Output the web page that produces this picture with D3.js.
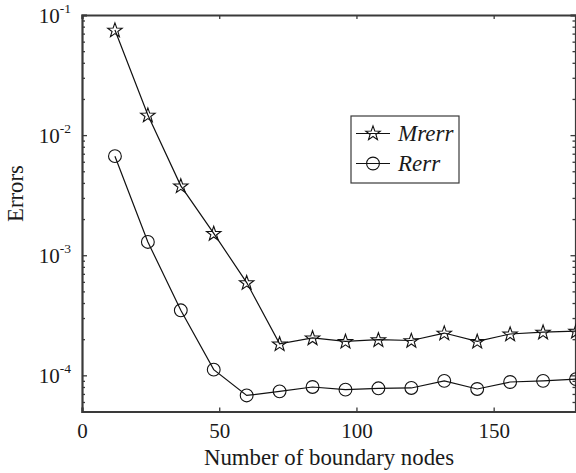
<!DOCTYPE html>
<html>
<head>
<meta charset="utf-8">
<script src="https://cdn.jsdelivr.net/npm/d3@7"></script>
<style>
  body { margin: 0; background: #fff; }
  svg text { font-family: "Liberation Serif", "Times New Roman", serif !important; }
</style>
</head>
<body>
<div id="graph"></div>
<script>
// boundary node counts and the two error series
const nodes = [12, 24, 36, 48, 60, 72, 84, 96, 108, 120, 132, 144, 156, 168, 180];
const mrerr = [0.075, 0.0147, 0.00378, 0.00152, 0.000592, 0.000183, 0.000205, 0.000192, 0.000198, 0.000195, 0.000225, 0.000192, 0.000221, 0.000229, 0.000233];
const rerr = [0.00668, 0.00129, 0.000348, 0.0001115, 0.000068, 0.0000736, 0.00008, 0.000076, 0.000078, 0.0000785, 0.00009, 0.000077, 0.000088, 0.00009, 0.000093];

const xTicks = [0, 50, 100, 150];
const yDecades = [-4, -3, -2, -1];
const seriesNames = ["Mrerr", "Rerr"];

const svgWidth = 576;
const svgHeight = 473;
const margin = { top: 15, right: 0, bottom: 61.5, left: 82 };

const svg = d3.select("#graph")
  .append("svg")
  .attr("width", svgWidth)
  .attr("height", svgHeight);

const xScale = d3.scaleLinear()
  .domain([0, 180])
  .range([margin.left, svgWidth - margin.right]);

const yScale = d3.scaleLog()
  .domain([5e-5, 0.1])
  .range([svgHeight - margin.bottom, margin.top]);

const x0 = xScale.range()[0], x1 = xScale.range()[1];
const y0 = yScale.range()[0], y1 = yScale.range()[1];

// minor log ticks
const minor = [];
yDecades.concat([-5]).forEach(k => {
  for (let m = 2; m <= 9; m++) {
    const v = m * Math.pow(10, k);
    if (v >= 5e-5 && v < 0.1) minor.push(v);
  }
});

const axisColor = "#3a3a3a";
const textColor = "#1a1a1a";

// left axis (ticks inward)
const gl = svg.append("g")
  .attr("transform", `translate(${x0},0)`)
  .call(d3.axisLeft(yScale).tickValues(yDecades.map(k => Math.pow(10, k))).tickSize(-5).tickFormat(""));
gl.append("g").call(d3.axisLeft(yScale).tickValues(minor).tickSize(-3).tickFormat(""))
  .select(".domain").remove();

// right axis
const gr = svg.append("g")
  .attr("transform", `translate(${x1 - 0.5},0)`)
  .call(d3.axisRight(yScale).tickValues(yDecades.map(k => Math.pow(10, k))).tickSize(-5).tickFormat(""));
gr.append("g").call(d3.axisRight(yScale).tickValues(minor).tickSize(-3).tickFormat(""))
  .select(".domain").remove();

// bottom axis
svg.append("g")
  .attr("transform", `translate(0,${y0})`)
  .call(d3.axisBottom(xScale).tickValues(xTicks).tickSize(-4).tickPadding(12))
  .selectAll("text")
  .attr("font-size", 21)
  .attr("fill", textColor);

// top axis
svg.append("g")
  .attr("transform", `translate(0,${y1})`)
  .call(d3.axisTop(xScale).tickValues(xTicks).tickSize(-4).tickFormat(""));

svg.selectAll(".domain, .tick line")
  .attr("stroke", axisColor);
svg.selectAll(".domain").attr("stroke-width", 2.2);
svg.selectAll(".tick line").attr("stroke-width", 1.3);

// y labels with superscripts
yDecades.forEach(k => {
  const t = svg.append("text")
    .attr("x", 71)
    .attr("y", yScale(Math.pow(10, k)) + 7.5)
    .attr("text-anchor", "end")
    .attr("fill", textColor)
    .attr("font-size", 21);
  t.append("tspan").text("10");
  t.append("tspan").attr("font-size", 13.5).attr("dy", -9.5).text("-" + Math.abs(k));
});

// axis titles
svg.append("text")
  .attr("x", (x0 + x1) / 2)
  .attr("y", 464.5)
  .attr("text-anchor", "middle")
  .attr("font-size", 22.8)
  .attr("fill", textColor)
  .text("Number of boundary nodes");

svg.append("text")
  .attr("transform", "translate(23,193.5) rotate(-90)")
  .attr("text-anchor", "middle")
  .attr("font-size", 22.8)
  .attr("fill", textColor)
  .text("Errors");

// star marker path
function starPath(r) {
  const pts = [];
  for (let i = 0; i < 10; i++) {
    const rad = i % 2 === 0 ? r : r * 0.4;
    const a = -Math.PI / 2 + i * Math.PI / 5;
    pts.push([rad * Math.cos(a), rad * Math.sin(a)]);
  }
  return "M" + pts.map(p => p[0].toFixed(2) + "," + p[1].toFixed(2)).join("L") + "Z";
}

const line = d3.line()
  .x(d => xScale(d[0]))
  .y(d => yScale(d[1]));

const mData = nodes.map((n, i) => [n, mrerr[i]]);
const rData = nodes.map((n, i) => [n, rerr[i]]);

svg.append("path").datum(mData)
  .attr("fill", "none").attr("stroke", "#111").attr("stroke-width", 1.2)
  .attr("d", line);
svg.append("path").datum(rData)
  .attr("fill", "none").attr("stroke", "#111").attr("stroke-width", 1.2)
  .attr("d", line);

svg.selectAll(".star")
  .data(mData)
  .enter()
  .append("path")
  .attr("class", "star")
  .attr("transform", d => `translate(${xScale(d[0])},${yScale(d[1]) + 0.5})`)
  .attr("d", starPath(7.6))
  .attr("fill", "none")
  .attr("stroke", "#111")
  .attr("stroke-width", 1.1);

svg.selectAll(".circ")
  .data(rData)
  .enter()
  .append("circle")
  .attr("class", "circ")
  .attr("cx", d => xScale(d[0]))
  .attr("cy", d => yScale(d[1]))
  .attr("r", 6.4)
  .attr("fill", "none")
  .attr("stroke", "#111")
  .attr("stroke-width", 1.1);

// legend
const legend = svg.append("g");
legend.append("rect")
  .attr("x", 351).attr("y", 116)
  .attr("width", 108).attr("height", 67)
  .attr("fill", "#fff")
  .attr("stroke", axisColor)
  .attr("stroke-width", 1.2);

seriesNames.forEach((name, i) => {
  const ly = 133.5 + i * 30;
  legend.append("line")
    .attr("x1", 356).attr("x2", 390)
    .attr("y1", ly).attr("y2", ly)
    .attr("stroke", "#111").attr("stroke-width", 1.2);
  if (i === 0) {
    legend.append("path")
      .attr("transform", `translate(373,${ly})`)
      .attr("d", starPath(7.6))
      .attr("fill", "none").attr("stroke", "#111").attr("stroke-width", 1.1);
  } else {
    legend.append("circle")
      .attr("cx", 373).attr("cy", ly).attr("r", 6.4)
      .attr("fill", "none").attr("stroke", "#111").attr("stroke-width", 1.1);
  }
  legend.append("text")
    .attr("x", 398).attr("y", ly + 7)
    .attr("font-size", 23)
    .attr("font-style", "italic")
    .attr("fill", textColor)
    .text(name);
});
</script>
</body>
</html>
